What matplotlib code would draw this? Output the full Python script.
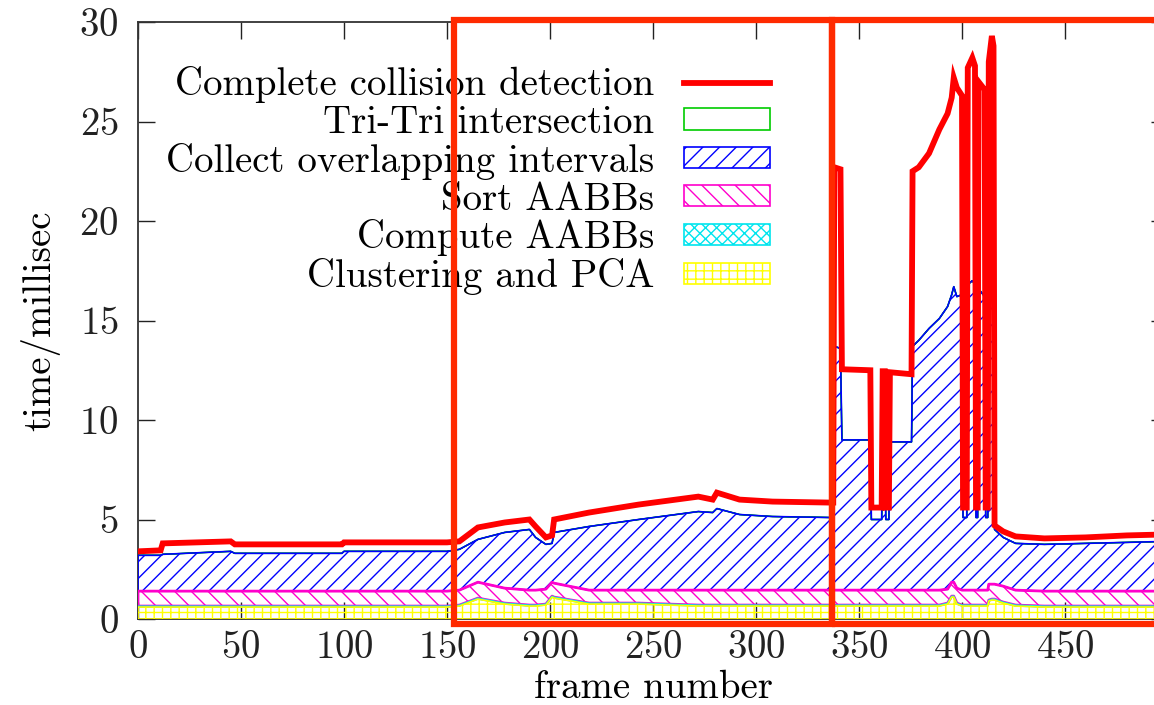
import numpy as np
import matplotlib
matplotlib.use("Agg")
import matplotlib.pyplot as plt
from matplotlib.patches import Rectangle, Patch
from matplotlib.lines import Line2D

# ---------------- data ----------------
frames = [0, 11, 12, 45, 47, 99, 100, 150, 156, 165, 178, 190, 193, 198, 201,
          202, 219, 243, 272, 279, 281, 292, 308, 336, 337.5, 338, 341, 341.7,
          355.5, 356, 361, 361.5, 362.5, 363, 364.5, 365, 375.5, 376, 379, 384,
          389, 393, 395, 396, 397.5, 400, 400.5, 402.3, 402.8, 405, 406.3, 406.8,
          407.6, 408, 411, 411.5, 412.5, 413, 414.5, 415.3, 415.8, 420, 426, 440,
          460, 480, 499]

clustering_pca = [0.6, 0.6, 0.6, 0.6, 0.6, 0.6, 0.6, 0.6, 0.65, 1.0, 0.75, 0.65, 0.65, 0.7, 1.1,
                  1.05, 0.75, 0.75, 0.65, 0.65, 0.65, 0.65, 0.65, 0.65, 0.65, 0.65, 0.65, 0.65,
                  0.65, 0.65, 0.65, 0.65, 0.65, 0.65, 0.65, 0.65, 0.65, 0.65, 0.65, 0.65,
                  0.65, 0.75, 1.1, 1.1, 0.75, 0.65, 0.65, 0.65, 0.65, 0.65, 0.65, 0.65,
                  0.65, 0.65, 0.65, 0.65, 0.65, 0.9, 0.95, 0.95, 0.95, 0.8, 0.65, 0.6,
                  0.6, 0.6, 0.6]

compute_aabbs = [0.05, 0.05, 0.05, 0.05, 0.05, 0.05, 0.05, 0.05, 0.05, 0.05, 0.05, 0.05, 0.05, 0.05, 0.05,
                 0.05, 0.05, 0.05, 0.05, 0.05, 0.05, 0.05, 0.05, 0.05, 0.05, 0.05, 0.05, 0.05,
                 0.05, 0.05, 0.05, 0.05, 0.05, 0.05, 0.05, 0.05, 0.05, 0.05, 0.05, 0.05,
                 0.05, 0.05, 0.05, 0.05, 0.05, 0.05, 0.05, 0.05, 0.05, 0.05, 0.05, 0.05,
                 0.05, 0.05, 0.05, 0.05, 0.05, 0.05, 0.05, 0.05, 0.05, 0.05, 0.05, 0.05,
                 0.05, 0.05, 0.05]

sort_aabbs = [0.75, 0.75, 0.75, 0.75, 0.75, 0.75, 0.75, 0.75, 0.75, 0.8, 0.75, 0.75, 0.75, 0.75, 0.7,
              0.7, 0.65, 0.65, 0.75, 0.75, 0.75, 0.75, 0.75, 0.75, 0.75, 0.75, 0.75, 0.75,
              0.75, 0.75, 0.75, 0.75, 0.75, 0.75, 0.75, 0.75, 0.75, 0.75, 0.75, 0.75,
              0.75, 0.7, 0.7, 0.7, 0.75, 0.75, 0.75, 0.75, 0.75, 0.75, 0.75, 0.75,
              0.75, 0.75, 0.75, 0.75, 0.75, 0.8, 0.75, 0.75, 0.75, 0.8, 0.75, 0.75,
              0.75, 0.75, 0.75]

collect_intervals = [1.8, 1.8, 1.85, 2.0, 1.9, 1.9, 2.0, 2.0, 2.05, 2.15, 2.8, 3.05, 2.65, 2.25, 1.95,
                     2.55, 3.2, 3.55, 3.95, 3.9, 4.1, 3.8, 3.7, 3.65, 3.65, 12.25, 12.15, 7.55,
                     7.55, 3.55, 3.55, 7.55, 7.55, 3.55, 3.55, 7.45, 7.45, 12.25, 12.55, 13.15,
                     13.65, 14.2, 14.45, 14.85, 14.65, 14.85, 3.65, 3.65, 15.35, 15.55, 15.35, 3.65,
                     3.65, 15.15, 14.75, 3.65, 3.65, 14.25, 14.25, 14.05, 2.75, 2.45, 2.35, 2.35,
                     2.4, 2.45, 2.5]

tri_tri = [0.0, 0.0, 0.0, 0.0, 0.0, 0.0, 0.0, 0.0, 0.0, 0.0, 0.0, 0.0, 0.0, 0.0, 0.0,
           0.0, 0.0, 0.0, 0.0, 0.0, 0.0, 0.0, 0.0, 0.0, 0.0, 0.0, 0.0, 0.0,
           0.0, 0.0, 0.0, 0.0, 0.0, 0.0, 0.0, 0.0, 0.0, 0.0, 0.0, 0.0,
           0.0, 0.0, 0.0, 0.0, 0.0, 0.0, 0.0, 0.0, 0.0, 0.0, 0.0, 0.0,
           0.0, 0.0, 0.0, 0.0, 0.0, 0.0, 0.0, 0.0, 0.0, 0.0, 0.0, 0.0,
           0.0, 0.0, 0.0]

complete_detection = [3.4, 3.45, 3.8, 3.9, 3.75, 3.75, 3.85, 3.85, 3.9, 4.6, 4.85, 5.0, 4.65, 4.1, 4.2,
                      5.0, 5.35, 5.75, 6.15, 6.0, 6.35, 6.0, 5.9, 5.85, 5.85, 22.7, 22.6, 12.55,
                      12.5, 5.6, 5.6, 12.45, 12.45, 5.6, 5.6, 12.4, 12.3, 22.5, 22.7, 23.4,
                      24.6, 25.4, 26.2, 27.2, 26.7, 26.3, 5.6, 5.6, 27.7, 28.2, 27.8, 5.6,
                      5.6, 27.0, 26.6, 5.6, 5.6, 28.0, 29.3, 28.8, 4.7, 4.4, 4.15, 4.05,
                      4.1, 4.2, 4.25]

layer_labels = ["Clustering and PCA", "Compute AABBs", "Sort AABBs",
                "Collect overlapping intervals", "Tri-Tri intersection"]
total_label = "Complete collision detection"
x_ticks = [0, 50, 100, 150, 200, 250, 300, 350, 400, 450]
y_ticks = [0, 5, 10, 15, 20, 25, 30]

# highlighted frame ranges (annotation boxes)
highlight_ranges = [(153.4, 336.9), (336.9, 560.0)]

# ---------------- style ----------------
plt.rcParams["font.family"] = ["cmr10"]
plt.rcParams["mathtext.fontset"] = "cm"
plt.rcParams["axes.formatter.use_mathtext"] = True
plt.rcParams["hatch.linewidth"] = 1.0

FS = 28
W, H = 1154, 705
fig = plt.figure(figsize=(W / 100, H / 100), dpi=100)
ax = fig.add_axes([138 / W, (H - 619) / H, 1030 / W, 597 / H])

colors = ["#ffff00", "#00e5ee", "#ff00cc", "#0000ff", "#00cc00"]
hatches = ["++", "xxx", "\\\\", "//", ""]
edge_lw = [1.2, 1.0, 2.0, 1.2, 1.0]
zorders = [2.9, 2.8, 2.7, 2.6, 1.0]

x = np.array(frames, dtype=float)
layers = [clustering_pca, compute_aabbs, sort_aabbs, collect_intervals, tri_tri]
base = np.zeros_like(x)
handles = {}
for vals, col, hat, lab, lw, zo in zip(layers, colors, hatches, layer_labels, edge_lw, zorders):
    top = base + np.array(vals, dtype=float)
    ax.fill_between(x, base, top, facecolor="none", edgecolor=col, hatch=hat,
                    linewidth=lw, zorder=zo)
    handles[lab] = Patch(facecolor="none", edgecolor=col, hatch=hat, linewidth=1.2)
    base = top

ax.plot(x, complete_detection, color="#ff0000", lw=4.2, zorder=4,
        solid_joinstyle="miter")
handles[total_label] = Line2D([], [], color="#ff0000", lw=4.2)

ax.set_xlim(0, 500)
ax.set_ylim(0, 30)
ax.set_xticks(x_ticks)
ax.set_yticks(y_ticks)
ax.tick_params(direction="in", top=True, right=True, length=12, width=1.0,
               labelsize=FS, colors="#222222")
ax.tick_params(axis="x", pad=8)
ax.tick_params(axis="y", pad=14)
for sp in ax.spines.values():
    sp.set_color("#333333")
    sp.set_linewidth(1.3)

ax.set_xlabel("frame number", fontsize=FS, labelpad=3)
ax.set_ylabel("time/millisec", fontsize=FS, labelpad=14)

order = [total_label, "Tri-Tri intersection", "Collect overlapping intervals",
         "Sort AABBs", "Compute AABBs", "Clustering and PCA"]
leg = ax.legend([handles[k] for k in order], order, markerfirst=False, frameon=False,
                loc="upper right", bbox_to_anchor=(770 / W, (H - 66) / H),
                bbox_transform=fig.transFigure, borderaxespad=0, borderpad=0,
                fontsize=FS, handlelength=2.2, handleheight=0.46,
                labelspacing=0.05, handletextpad=0.77)
leg.set_zorder(6)

for x0, x1 in highlight_ranges:
    ax.add_patch(Rectangle((x0, -0.25), x1 - x0, 30.35, fill=False,
                           edgecolor="#ff2a00", lw=4.5, clip_on=False, zorder=10))

fig.savefig("out.png", dpi=100)
